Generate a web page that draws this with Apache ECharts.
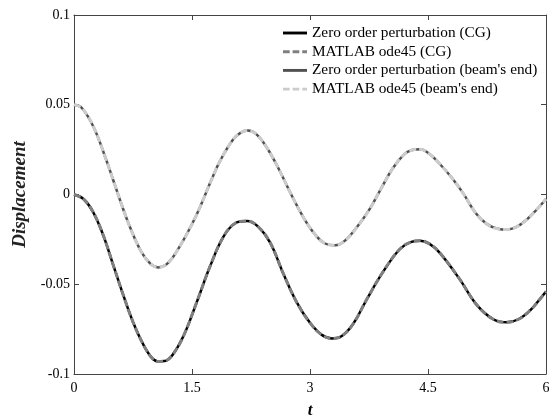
<!DOCTYPE html>
<html>
<head>
<meta charset="utf-8">
<script src="https://cdn.jsdelivr.net/npm/echarts@6/dist/echarts.min.js"></script>
<style>
  html, body { margin: 0; padding: 0; background: #fff; }
  #chart { width: 558px; height: 415px; }
</style>
</head>
<body>
<div id="chart"></div>
<script>
// 数据：时间 t 与位移
const xTicks = ['0', '1.5', '3', '4.5', '6'];
const yTicks = ['-0.1', '-0.05', '0', '0.05', '0.1'];
const seriesNames = [
  'Zero order perturbation (CG)',
  'MATLAB ode45 (CG)',
  "Zero order perturbation (beam's end)",
  "MATLAB ode45 (beam's end)"
];

// CG (下方曲线)
const cgT = [0, 0.12, 0.24, 0.37, 0.5, 0.63, 0.75, 0.88, 0.99, 1.07, 1.15, 1.25, 1.39, 1.56, 1.73, 1.9, 2.05, 2.2,
  2.33, 2.49, 2.66, 2.83, 3.0, 3.15, 3.28, 3.4, 3.55, 3.72, 3.93, 4.14, 4.28, 4.4, 4.52, 4.65, 4.9, 5.12, 5.33, 5.5, 5.65, 5.8, 5.9, 6.0];
const cgV = [0, -0.0025, -0.0095, -0.0225, -0.0395, -0.0565, -0.071, -0.0835, -0.091, -0.093, -0.0928, -0.0895, -0.079, -0.06, -0.04, -0.0235, -0.016, -0.0148,
  -0.0175, -0.0265, -0.044, -0.06, -0.0715, -0.0782, -0.0802, -0.079, -0.072, -0.0585, -0.043, -0.0305, -0.0265, -0.0258, -0.0275, -0.0325, -0.047, -0.0615, -0.0695, -0.0712, -0.0695, -0.0645, -0.0595, -0.054];

// beam's end (上方曲线)
const endT = [0, 0.1, 0.25, 0.4, 0.5, 0.6, 0.71, 0.85, 0.97, 1.07, 1.2, 1.35, 1.5, 1.6, 1.75, 1.86, 2.02, 2.12, 2.21,
  2.32, 2.45, 2.6, 2.75, 2.9, 3.05, 3.18, 3.32, 3.45, 3.6, 3.76, 3.9, 4.05, 4.2, 4.3, 4.4, 4.52, 4.65, 4.8, 4.95, 5.1, 5.25, 5.4, 5.5, 5.62, 5.75, 5.88, 6.0];
const endV = [0.05, 0.0482, 0.0375, 0.0205, 0.0078, -0.005, -0.018, -0.0315, -0.0385, -0.0406, -0.038, -0.0285, -0.0165, -0.0072, 0.0085, 0.019, 0.0305, 0.0345, 0.0356,
  0.0335, 0.0262, 0.0145, 0.001, -0.0115, -0.0215, -0.027, -0.0283, -0.0255, -0.018, -0.008, 0.003, 0.0145, 0.0225, 0.0248, 0.0252, 0.0225, 0.017, 0.0095, 0.0005, -0.01, -0.0165, -0.0192, -0.0195, -0.0182, -0.0142, -0.0085, -0.0025];

function pairs(t, v) {
  return t.map((x, i) => [x, v[i]]);
}

let myChart = echarts.init(document.getElementById('chart'));

const axisCommon = {
  axisLine: { show: true, onZero: false, lineStyle: { color: '#444', width: 1 } },
  axisTick: { show: true, inside: true, length: 5, lineStyle: { color: '#444' } },
  splitLine: { show: false }
};
const font = 'Liberation Serif';

// 图例图标：实线 / 虚线
const solidIcon = 'path://M0,0h25v3h-25z';
const dashIcon = 'path://M0,0h7v3h-7z M10,0h7v3h-7z M20,0h5v3h-5z';

let option = {
  animation: false,
  grid: { left: 74, right: 12, top: 15, bottom: 41, outerBoundsMode: 'none' },
  legend: {
    orient: 'vertical',
    left: 283,
    top: 25,
    padding: 0,
    itemWidth: 24,
    itemHeight: 3,
    itemGap: 2.7,
    textStyle: { fontFamily: font, fontSize: 15.3, color: '#000', lineHeight: 16 },
    data: [
      { name: seriesNames[0], icon: solidIcon },
      { name: seriesNames[1], icon: dashIcon },
      { name: seriesNames[2], icon: solidIcon },
      { name: seriesNames[3], icon: dashIcon }
    ]
  },
  xAxis: [
    Object.assign({
      type: 'value', min: 0, max: 6, interval: 1.5, position: 'bottom',
      name: 't', nameLocation: 'middle', nameGap: 28,
      nameTextStyle: { fontFamily: font, fontSize: 17, fontWeight: 'bold', fontStyle: 'italic', color: '#000' },
      axisLabel: { fontFamily: font, fontSize: 14, color: '#000', margin: 7,
        formatter: v => xTicks[Math.round(v / 1.5)] }
    }, axisCommon),
    Object.assign({
      type: 'value', min: 0, max: 6, interval: 1.5, position: 'top',
      axisLabel: { show: false }
    }, axisCommon)
  ],
  yAxis: [
    Object.assign({
      type: 'value', min: -0.1, max: 0.1, interval: 0.05, position: 'left',
      name: 'Displacement', nameLocation: 'middle', nameGap: 40,
      nameTextStyle: { fontFamily: font, fontSize: 19, fontWeight: 'bold', fontStyle: 'italic', color: '#222' },
      axisLabel: { fontFamily: font, fontSize: 14, color: '#000', margin: 4,
        formatter: v => yTicks[Math.round((v + 0.1) / 0.05)] }
    }, axisCommon),
    Object.assign({
      type: 'value', min: -0.1, max: 0.1, interval: 0.05, position: 'right',
      axisLabel: { show: false }
    }, axisCommon)
  ],
  series: [
    {
      name: seriesNames[0], type: 'line', data: pairs(cgT, cgV), smooth: 0.4,
      showSymbol: false, symbol: 'none', z: 2,
      itemStyle: { color: '#000' },
      lineStyle: { color: '#000', width: 2.5 }
    },
    {
      name: seriesNames[1], type: 'line', data: pairs(cgT, cgV), smooth: 0.4,
      showSymbol: false, symbol: 'none', z: 3,
      itemStyle: { color: '#808080' },
      lineStyle: { color: '#808080', width: 3, type: [7, 3] }
    },
    {
      name: seriesNames[2], type: 'line', data: pairs(endT, endV), smooth: 0.4,
      showSymbol: false, symbol: 'none', z: 2,
      itemStyle: { color: '#505050' },
      lineStyle: { color: '#505050', width: 2.5 }
    },
    {
      name: seriesNames[3], type: 'line', data: pairs(endT, endV), smooth: 0.4,
      showSymbol: false, symbol: 'none', z: 3,
      itemStyle: { color: '#cccccc' },
      lineStyle: { color: '#cccccc', width: 3, type: [7, 3] }
    }
  ]
};
myChart.setOption(option);
</script>
</body>
</html>
